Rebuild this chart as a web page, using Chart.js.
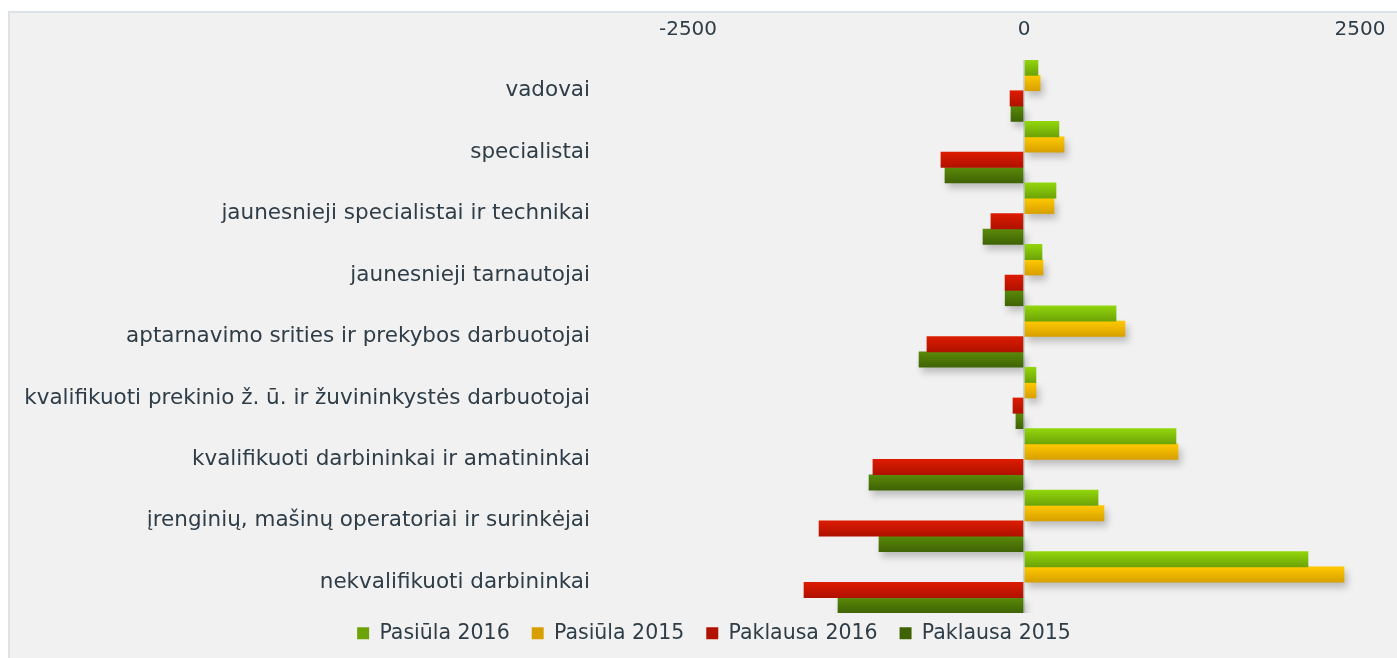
<!DOCTYPE html>
<html>
  <head>
    <meta charset="utf-8" />
    <title>Pasiūla ir paklausa</title>
    <style>
        html, body {
            width: 100%;
            height: 100%;
            margin: 0;
            padding: 0;
            overflow: hidden;
            background: #ffffff;
        }
        #wrap {
            position: absolute;
            left: 8px;
            top: 11px;
            width: 1389px;
            height: 647px;
            background: #f1f1f1;
            border-top: 2px solid #dde3e6;
            border-left: 2px solid #dde3e6;
            box-sizing: border-box;
        }
        #chart { display: block; }
    </style>
  </head>
  <body>
    <script src="https://cdn.jsdelivr.net/npm/chart.js@4/dist/chart.umd.min.js"></script>
    <div id="wrap"><canvas id="chart" width="1387" height="645"></canvas></div>

    <script>
        const categories = [
          "vadovai",
          "specialistai",
          "jaunesnieji specialistai ir technikai",
          "jaunesnieji tarnautojai",
          "aptarnavimo srities ir prekybos darbuotojai",
          "kvalifikuoti prekinio ž. ū. ir žuvininkystės darbuotojai",
          "kvalifikuoti darbininkai ir amatininkai",
          "įrenginių, mašinų operatoriai ir surinkėjai",
          "nekvalifikuoti darbininkai"
        ];
        const pasiula2016 = [104, 260, 238, 134, 685, 89, 1131, 551, 2113];
        const pasiula2015 = [120, 298, 223, 141, 751, 89, 1146, 595, 2381];
        const paklausa2016 = [-104, -618, -246, -141, -722, -82, -1124, -1525, -1637];
        const paklausa2015 = [-97, -588, -305, -140, -781, -60, -1153, -1079, -1384];
        const xTicks = [-2500, 0, 2500];

        const fontFamily = "'DejaVu Sans', sans-serif";
        const textColor = "#2e3d47";
        const clear = "rgba(0,0,0,0)";

        // vertical gradient per bar, worked out from the category scale
        const gradientFill = (top, bottom, solid) => (c) => {
          const chart = c.chart;
          const y = chart.scales && chart.scales.y;
          if (!y || !chart.chartArea || y.bottom === y.top) return solid;
          const band = (y.bottom - y.top) / categories.length;
          const start = y.getPixelForValue(c.dataIndex) - band / 2 + c.datasetIndex * band / 4;
          const g = chart.ctx.createLinearGradient(0, start, 0, start + band / 4);
          g.addColorStop(0, top);
          g.addColorStop(1, bottom);
          return g;
        };

        // soft shadow under the lower bar of each pair only
        const shadowPlugin = {
          id: "barShadow",
          beforeDatasetDraw(chart, args) {
            const ctx = chart.ctx;
            ctx.save();
            if (args.index === 1 || args.index === 3) {
              ctx.shadowColor = "rgba(0,0,0,0.22)";
              ctx.shadowBlur = 7;
              ctx.shadowOffsetX = 3;
              ctx.shadowOffsetY = 5;
            }
          },
          afterDatasetDraw(chart) {
            chart.ctx.restore();
          }
        };

        // legend: wide gaps between items but a short box
        const legendFitPlugin = {
          id: "legendFit",
          afterInit(chart) {
            const legend = chart.legend;
            if (!legend) return;
            const fit = legend.fit;
            legend.fit = function () {
              fit.call(this);
              this.height = 45;
            };
            const draw = legend.draw;
            legend.draw = function () {
              this.ctx.save();
              this.ctx.translate(29, -12);
              draw.call(this);
              this.ctx.restore();
            };
          }
        };

        const chart = new Chart("chart", {
          type: "bar",
          data: {
            labels: categories,
            datasets: [
              {
                label: "Pasiūla 2016",
                data: pasiula2016,
                backgroundColor: gradientFill("#92d60c", "#6da307", "#80bd0a")
              },
              {
                label: "Pasiūla 2015",
                data: pasiula2015,
                backgroundColor: gradientFill("#ffc900", "#d7a000", "#f0b800")
              },
              {
                label: "Paklausa 2016",
                data: paklausa2016,
                backgroundColor: gradientFill("#dc1c00", "#b01100", "#c81700")
              },
              {
                label: "Paklausa 2015",
                data: paklausa2015,
                backgroundColor: gradientFill("#5a8a09", "#3f6304", "#4f7a08")
              }
            ]
          },
          options: {
            responsive: false,
            indexAxis: "y",
            animation: false,
            layout: { padding: { left: 0, right: 37, top: 0, bottom: 0 } },
            datasets: {
              bar: { categoryPercentage: 1, barPercentage: 1, borderWidth: 0 }
            },
            scales: {
              x: {
                position: "top",
                min: -2500,
                max: 2500,
                afterBuildTicks: (scale) => {
                  scale.ticks = xTicks.map((v) => ({ value: v }));
                },
                afterFit: (scale) => { scale.height = 47; },
                border: { display: false },
                grid: {
                  drawTicks: true,
                  tickLength: 18,
                  tickColor: clear,
                  lineWidth: 2,
                  color: (c) => (c.tick && c.tick.value === 0 ? "#cdd8dc" : clear)
                },
                ticks: {
                  padding: 0,
                  color: textColor,
                  font: { family: fontFamily, size: 20 },
                  callback: (v) => String(v)
                }
              },
              y: {
                afterFit: (scale) => { scale.width = 678; },
                border: { display: false },
                grid: {
                  display: true,
                  drawOnChartArea: false,
                  drawTicks: true,
                  tickLength: 98,
                  tickColor: clear,
                  color: clear
                },
                ticks: {
                  padding: 0,
                  color: textColor,
                  font: { family: fontFamily, size: 21.5 }
                }
              }
            },
            plugins: {
              legend: {
                position: "bottom",
                labels: {
                  boxWidth: 12,
                  boxHeight: 12,
                  padding: 22,
                  color: textColor,
                  font: { family: fontFamily, size: 20.5 }
                }
              },
              tooltip: { enabled: false }
            }
          },
          plugins: [shadowPlugin, legendFitPlugin]
        });
    </script>
  </body>
</html>
